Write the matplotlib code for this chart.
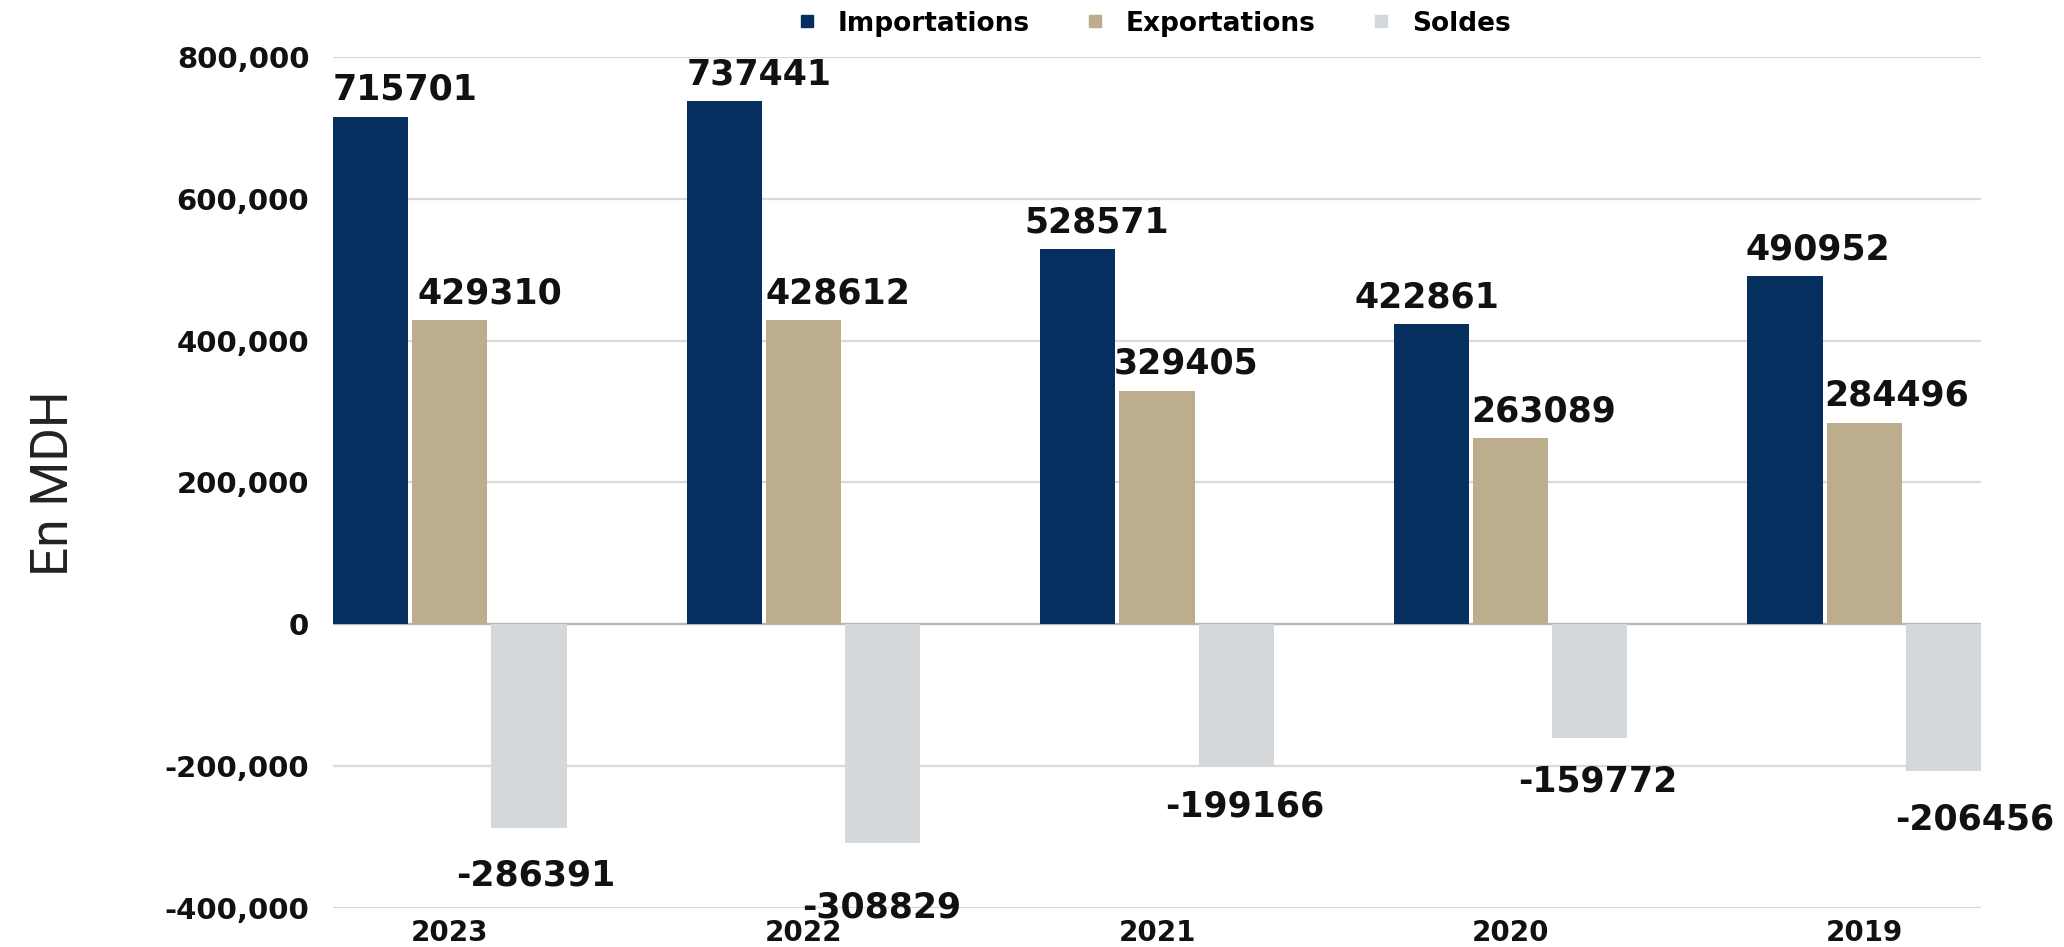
import numpy as np
import matplotlib
matplotlib.use("Agg")
import matplotlib.pyplot as plt
from matplotlib.lines import Line2D
from matplotlib.ticker import FuncFormatter

# --- data (MDH) ---
years = ["2023", "2022", "2021", "2020", "2019"]
importations = [715701, 737441, 528571, 422861, 490952]
exportations = [429310, 428612, 329405, 263089, 284496]
soldes = [-286391, -308829, -199166, -159772, -206456]

series_names = ["Importations", "Exportations", "Soldes"]
colors = ["#062f5f", "#bcad8d", "#d5d8da"]

# small nudges for the value labels (x in data units, y in points)
imp_dx = [0.0, 0.0, -0.045, -0.11, -0.005]
exp_dx = [0.015, 0.0, -0.015, -0.005, -0.005]
sol_dx = [-0.10, -0.12, -0.095, -0.097, -0.03]
sol_dy = [22, 34, 17, 19, 23]

label_font = "DejaVu Sans"

fig = plt.figure(figsize=(20.64, 9.47), dpi=100)
ax = fig.add_axes([0.1613, 0.041, 0.7985, 0.899])

x = np.arange(len(years))
step = 0.224
width = 0.213
offsets = [-step, 0, step]

all_series = [importations, exportations, soldes]
for vals, off, col, name in zip(all_series, offsets, colors, series_names):
    ax.bar(x + off, vals, width=width, color=col, label=name, zorder=3)

# value labels
for i in range(len(years)):
    left_imp = x[i] + offsets[0] - width / 2
    ax.annotate(str(importations[i]), xy=(left_imp + imp_dx[i], importations[i]),
                xytext=(0, 7), textcoords="offset points", ha="left", va="bottom",
                fontsize=25, fontweight="bold", color="#111111", family=label_font)
    left_exp = x[i] + offsets[1] - width / 2
    ax.annotate(str(exportations[i]), xy=(left_exp + exp_dx[i], exportations[i]),
                xytext=(0, 7), textcoords="offset points", ha="left", va="bottom",
                fontsize=25, fontweight="bold", color="#111111", family=label_font)
    left_sol = x[i] + offsets[2] - width / 2
    ax.annotate(str(soldes[i]), xy=(left_sol + sol_dx[i], soldes[i]),
                xytext=(0, -sol_dy[i]), textcoords="offset points", ha="left", va="top",
                fontsize=25, fontweight="bold", color="#111111", family=label_font)

ax.set_xlim(-step - width / 2, len(years) - 1 + step + width / 2)
ax.set_ylim(-400000, 800000)
ax.set_yticks(np.arange(-400000, 800001, 200000))
ax.yaxis.set_major_formatter(FuncFormatter(lambda v, p: f"{int(v):,}"))
ax.set_xticks(x)
ax.set_xticklabels(years)

ax.grid(axis="y", color="#d9d9d9", linewidth=1.6, zorder=0)
ax.axhline(0, color="#b8b8b8", linewidth=1.6, zorder=2)
for s in ax.spines.values():
    s.set_visible(False)
ax.tick_params(axis="both", length=0)
ax.tick_params(axis="y", pad=17, labelsize=21)
ax.tick_params(axis="x", pad=8, labelsize=20)
for lab in ax.get_yticklabels() + ax.get_xticklabels():
    lab.set_fontweight("bold")
    lab.set_color("#111111")

fig.text(0.026, 0.49, "En MDH", rotation=90, ha="center", va="center",
         fontsize=37, fontweight="normal", color="#222222",
         family=["Roboto", "DejaVu Sans"])

handles = [Line2D([], [], marker="s", linestyle="", markersize=8,
                  markerfacecolor=c, markeredgecolor=c) for c in colors]
fig.legend(handles, series_names, loc="center", bbox_to_anchor=(0.555, 0.975),
           ncol=3, frameon=False, handletextpad=0.15, columnspacing=1.5,
           prop={"weight": "bold", "size": 19})

fig.savefig("out.png", dpi=100)
